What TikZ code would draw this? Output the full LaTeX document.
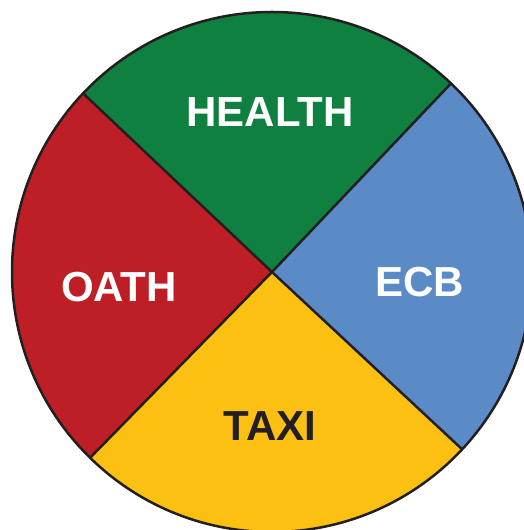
\documentclass[tikz,border=0pt]{standalone}
\usepackage{fontspec}
\setmainfont{Liberation Sans}
\usepackage{tikz}
\usetikzlibrary{calc}
\usepackage{xcolor}
\definecolor{healthgreen}{RGB}{16,128,64}
\definecolor{oathred}{RGB}{190,30,38}
\definecolor{taxiyellow}{RGB}{251,192,18}
\definecolor{ecbblue}{RGB}{90,139,199}
\definecolor{outline}{RGB}{35,31,32}

\begin{document}
\begin{tikzpicture}[x=1pt,y=1pt,
  spoke/.style={draw=outline,line width=2.5pt},
  rim/.style={draw=outline,line width=2.5pt},
  lab/.style={font=\fontsize{42}{42}\selectfont\bfseries,text=white,inner sep=0pt}]
  \useasboundingbox (0,0) rectangle (524,530);
  \coordinate (C) at (272,258);
  % the four sectors
  \foreach \a/\b/\col in {46.5/136.6/healthgreen,136.6/225.6/oathred,225.6/317/taxiyellow,317/406.5/ecbblue}
    \fill[\col] (C) -- ++(\a:260) arc[start angle=\a,end angle=\b,radius=260] -- cycle;
  % points on the rim
  \foreach \a/\n in {46.5/ne,136.6/nw,225.6/sw,317/se} \coordinate (\n) at ($(C)+(\a:260)$);
  \draw[spoke] (nw) -- (C) -- (se);
  \draw[spoke] (ne) -- (C) -- (sw);
  \draw[rim] (C) circle[radius=260];
  % labels
  \node[lab] (health) at (270,418) {HEALTH};
  \node[lab] (oath) at (119,243) {OATH};
  \node[lab] (ecb) at (419.5,248) {ECB};
  \node[lab,text=outline] (taxi) at (270,103.5) {TAXI};
\end{tikzpicture}
\end{document}
